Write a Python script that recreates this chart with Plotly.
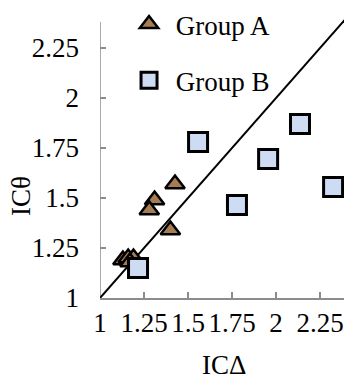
import plotly.graph_objects as go

# Group A (triangles)
a_x = [1.426, 1.31, 1.28, 1.40, 1.13, 1.16, 1.19, 1.17]
a_y = [1.57, 1.49, 1.44, 1.34, 1.19, 1.20, 1.20, 1.18]

# Group B (squares)
b_x = [1.216, 1.557, 1.955, 2.136, 2.324, 1.778]
b_y = [1.15, 1.78, 1.695, 1.87, 1.555, 1.465]

# Identity reference line
line_xy = [1.0, 2.5]

tick_vals = [1, 1.25, 1.5, 1.75, 2, 2.25]
tick_text = ["1", "1.25", "1.5", "1.75", "2", "2.25"]

Y_AXIS_TOP = 2.38

FONT = "Liberation Serif, Times New Roman, serif"
FONT_SIZE = 27
AXIS_GREY = "#8c8c8c"

fig = go.Figure()

fig.add_trace(go.Scatter(
    x=line_xy, y=line_xy, mode="lines",
    line=dict(color="black", width=2),
    showlegend=False, hoverinfo="skip",
))

fig.add_trace(go.Scatter(
    x=a_x, y=a_y, mode="markers", name="\u00a0Group A", legendgroup="a",
    marker=dict(symbol="triangle-up", size=17, color="#a67c52",
                line=dict(color="black", width=2.5)),
    cliponaxis=False,
))

fig.add_trace(go.Scatter(
    x=b_x, y=b_y, mode="markers", name="\u00a0Group B", legendgroup="b",
    marker=dict(symbol="square", size=19, color="#cddcf3",
                line=dict(color="black", width=3)),
    cliponaxis=False,
))

axis_common = dict(
    showgrid=False, zeroline=False,
    linecolor=AXIS_GREY, linewidth=1.5,
    ticks="inside", ticklen=6, tickwidth=1.5, tickcolor=AXIS_GREY,
    tickvals=tick_vals, ticktext=tick_text,
    tickfont=dict(family=FONT, size=FONT_SIZE, color="black"),
)

fig.update_xaxes(range=[1, 2.386], tickangle=0, showline=True, **axis_common)
# The y-axis line stops short of the top edge, so it is drawn as a shape.
fig.update_yaxes(range=[1, 2.49], ticklabelstandoff=20, showline=False, **axis_common)
fig.add_shape(type="line", xref="x", yref="y", x0=1, x1=1, y0=1, y1=Y_AXIS_TOP,
              line=dict(color=AXIS_GREY, width=1.5), layer="below")

fig.update_layout(
    width=344, height=378,
    margin=dict(l=100, r=0, t=0, b=80),
    plot_bgcolor="white", paper_bgcolor="white",
    showlegend=True,
    legend=dict(
        x=0.119, y=1.0, xanchor="left", yanchor="top",
        bgcolor="rgba(0,0,0,0)",
        font=dict(family=FONT, size=FONT_SIZE, color="black"),
        traceorder="grouped", tracegroupgap=18,
    ),
    annotations=[
        dict(text="ICΔ", x=0.508, y=-0.225, xref="paper", yref="paper",
             xanchor="center", yanchor="middle",
             showarrow=False, font=dict(family=FONT, size=FONT_SIZE, color="black")),
        dict(text="ICθ", x=-0.324, y=0.342, xref="paper", yref="paper",
             xanchor="center", yanchor="middle",
             textangle=-90, showarrow=False,
             font=dict(family=FONT, size=FONT_SIZE, color="black")),
    ],
)

fig.write_html("out.html")
